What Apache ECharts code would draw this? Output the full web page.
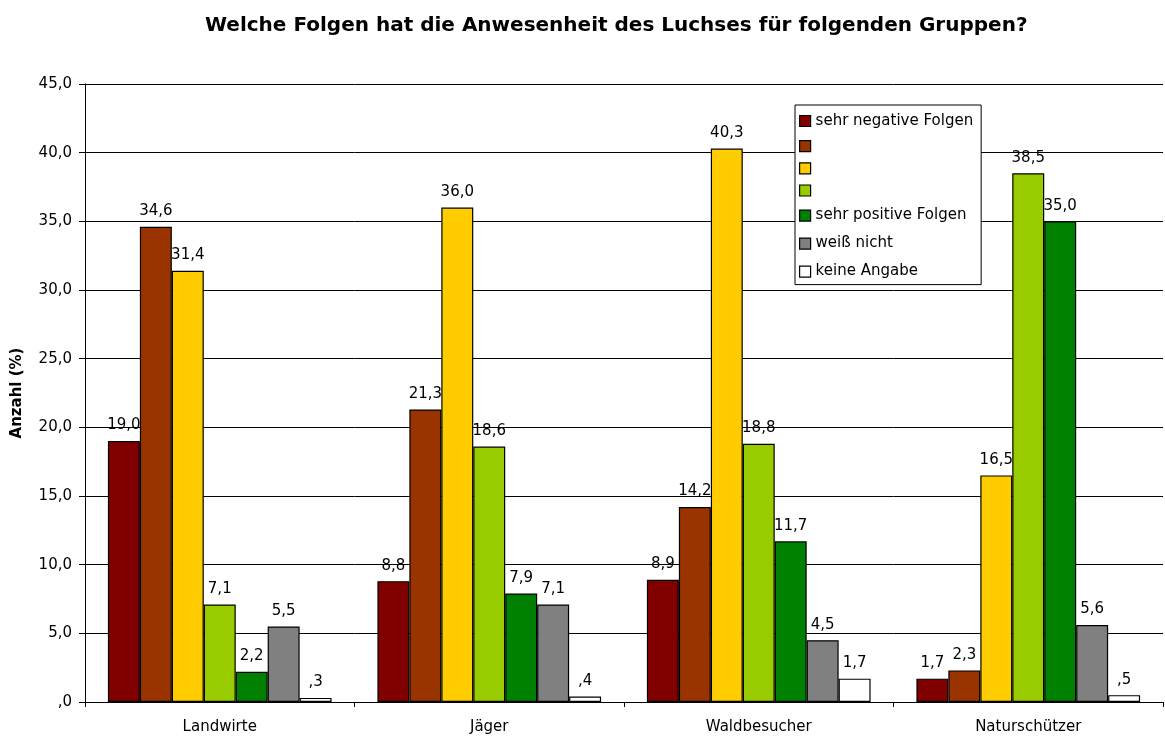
<!DOCTYPE html>
<html>
<head>
<meta charset="utf-8">
<script src="https://cdn.jsdelivr.net/npm/echarts@6/dist/echarts.min.js"></script>
<style>
  html, body { margin: 0; padding: 0; background: #fff; }
  #chart { width: 1165px; height: 737px; }
</style>
</head>
<body>
<div id="chart"></div>
<script>
// Gruppen (x-Achse)
let categories = ['Landwirte', 'Jäger', 'Waldbesucher', 'Naturschützer'];

// Werte je Antwort, Reihenfolge wie categories
let sehrNegativ = [19.0, 8.8, 8.9, 1.7];
let negativ     = [34.6, 21.3, 14.2, 2.3];
let neutral     = [31.4, 36.0, 40.3, 16.5];
let positiv     = [7.1, 18.6, 18.8, 38.5];
let sehrPositiv = [2.2, 7.9, 11.7, 35.0];
let weissNicht  = [5.5, 7.1, 4.5, 5.6];
let keineAngabe = [0.3, 0.4, 1.7, 0.5];

let seriesNames = ['sehr negative Folgen', 's2', 's3', 's4', 'sehr positive Folgen', 'weiß nicht', 'keine Angabe'];
let legendLabels = ['sehr negative Folgen', '', '', '', 'sehr positive Folgen', 'weiß nicht', 'keine Angabe'];
let colors = ['#800000', '#993300', '#FFCC00', '#99CC00', '#008000', '#808080', '#FFFFFF'];
let yTicks = [0, 5, 10, 15, 20, 25, 30, 35, 40, 45];

let allData = [sehrNegativ, negativ, neutral, positiv, sehrPositiv, weissNicht, keineAngabe];

// deutsches Format, ohne führende Null (",3")
function fmt(v) {
    let s = v.toFixed(1).replace('.', ',');
    if (s.indexOf('0,') === 0) s = s.substring(1);
    return s;
}

let font = 'DejaVu Sans, Verdana, sans-serif';

let option = {
    animation: false,
    backgroundColor: '#fff',
    title: {
        text: 'Welche Folgen hat die Anwesenheit des Luchses für folgenden Gruppen?',
        left: 200,
        top: 11,
        textStyle: { fontFamily: font, fontSize: 20, fontWeight: 'bold', color: '#000' }
    },
    legend: {
        orient: 'vertical',
        left: 795,
        top: 105,
        padding: [7, 8, 4, 4],
        itemGap: 10,
        itemWidth: 11,
        itemHeight: 11,
        backgroundColor: '#fff',
        borderColor: '#000',
        borderWidth: 1,
        icon: 'rect',
        itemStyle: { borderColor: '#000', borderWidth: 1.2 },
        textStyle: { fontFamily: font, fontSize: 15, lineHeight: 18, color: '#000', padding: [0, 0, 0, 0] },
        data: seriesNames,
        formatter: function (name) {
            return legendLabels[seriesNames.indexOf(name)];
        }
    },
    grid: { left: 85, right: 2, top: 84, bottom: 35, containLabel: false },
    xAxis: {
        type: 'category',
        data: categories,
        axisLine: { lineStyle: { color: '#000', width: 1 } },
        axisTick: { show: true, length: 5, lineStyle: { color: '#000' } },
        axisLabel: { fontFamily: font, fontSize: 15, color: '#000', margin: 18 }
    },
    yAxis: {
        type: 'value',
        min: 0,
        max: 45,
        interval: 5,
        name: 'Anzahl (%)',
        nameLocation: 'middle',
        nameGap: 60,
        nameTextStyle: { fontFamily: font, fontSize: 15, fontWeight: 'bold', color: '#000' },
        axisLine: { show: true, lineStyle: { color: '#000', width: 1 } },
        axisTick: { show: true, length: 6, lineStyle: { color: '#000' } },
        splitLine: { lineStyle: { color: '#000', width: 1 } },
        axisLabel: {
            fontFamily: font, fontSize: 15, color: '#000', margin: 13,
            formatter: function (v) { return yTicks.indexOf(v) >= 0 ? fmt(v) : ''; }
        }
    },
    series: allData.map(function (d, i) {
        return {
            name: seriesNames[i],
            type: 'bar',
            data: d,
            barGap: '0%',
            barCategoryGap: '17%',
            itemStyle: { color: colors[i], borderColor: '#000', borderWidth: 1.2 },
            label: {
                show: true,
                position: 'top',
                distance: 8,
                fontFamily: font,
                fontSize: 15,
                color: '#000',
                formatter: function (p) { return fmt(p.value); }
            }
        };
    })
};

let mychart = echarts.init(document.getElementById('chart'));
mychart.setOption(option);
</script>
</body>
</html>
